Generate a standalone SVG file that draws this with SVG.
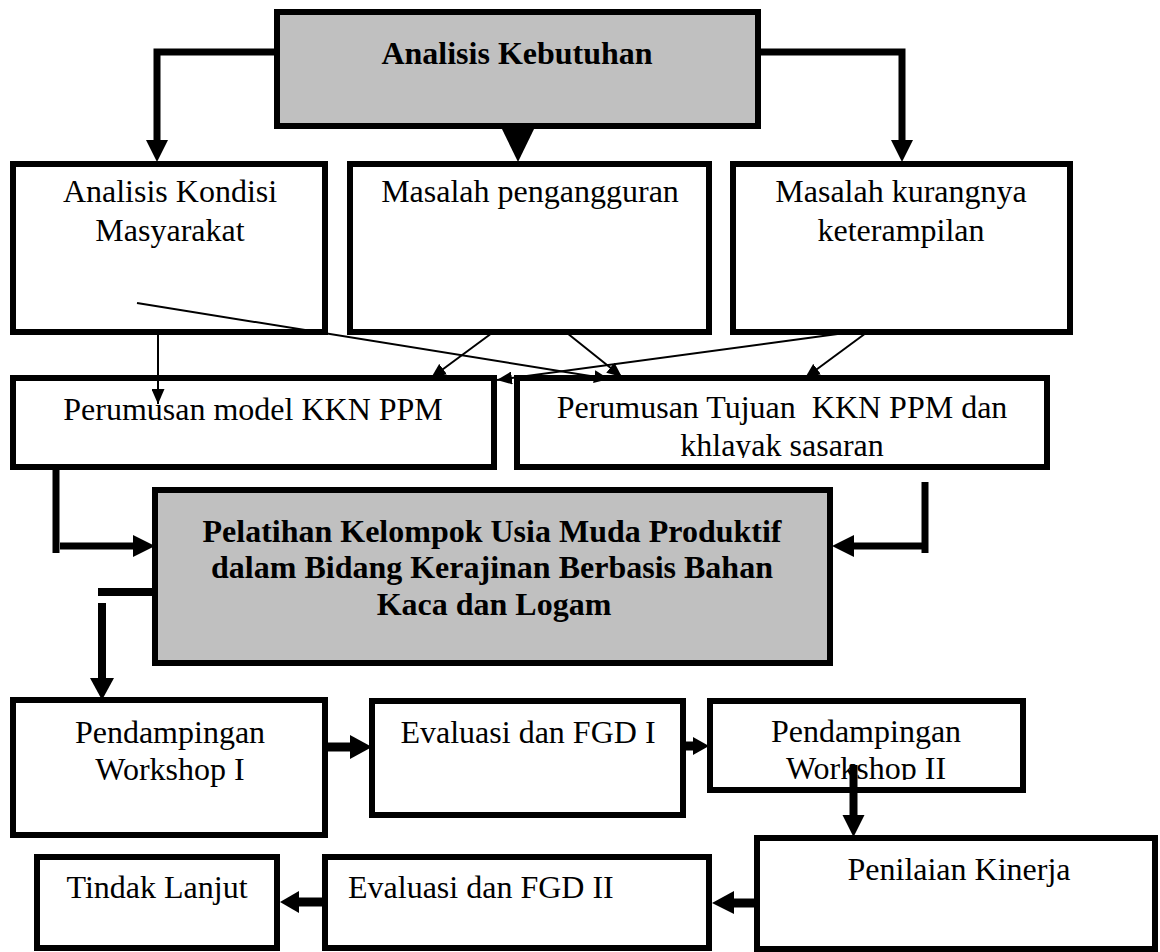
<svg xmlns="http://www.w3.org/2000/svg" width="1160" height="952" viewBox="0 0 1160 952">
<style>
.box{fill:#fff;stroke:#000;stroke-width:6}
.gray{fill:#c0c0c0;stroke:#000;stroke-width:6}
.t{font-family:"Liberation Serif","Times New Roman",serif;font-size:32px;fill:#000;text-anchor:middle}
.b{font-weight:bold}
.thick{fill:none;stroke:#000;stroke-width:7;stroke-linejoin:miter}
.thin{fill:none;stroke:#000;stroke-width:2;marker-end:url(#ah)}
.head{fill:#000}
</style>
<defs>
<marker id="ah" markerUnits="userSpaceOnUse" markerWidth="15" markerHeight="13" refX="15" refY="6.5" orient="auto">
<path d="M0,0 L15,6.5 L0,13 z" fill="#000"/>
</marker>
<clipPath id="clipE"><rect x="517" y="378" width="530" height="80"/></clipPath>
<clipPath id="clipW2"><rect x="710" y="700" width="313" height="80"/></clipPath>
</defs>
<rect width="1160" height="952" fill="#fff"/>
<g id="n-analisis-kebutuhan">
<rect class="gray" x="277" y="12" width="481" height="114"/>
<text class="t b" x="517" y="64">Analisis Kebutuhan</text>
</g>
<g id="n-analisis-kondisi">
<rect class="box" x="13" y="164" width="312" height="168"/>
<text class="t" x="170" y="202">Analisis Kondisi</text>
<text class="t" x="170" y="241">Masyarakat</text>
</g>
<g id="n-masalah-pengangguran">
<rect class="box" x="350" y="164" width="359" height="168"/>
<text class="t" x="530" y="202">Masalah pengangguran</text>
</g>
<g id="n-masalah-keterampilan">
<rect class="box" x="733" y="164" width="337" height="168"/>
<text class="t" x="901" y="202">Masalah kurangnya</text>
<text class="t" x="901" y="241">keterampilan</text>
</g>
<g id="n-perumusan-model">
<rect class="box" x="13" y="378" width="481" height="89"/>
<text class="t" x="253" y="420">Perumusan model KKN PPM</text>
</g>
<g id="n-perumusan-tujuan">
<rect class="box" x="517" y="378" width="530" height="89"/>
<g clip-path="url(#clipE)">
<text class="t" x="782" y="418" xml:space="preserve">Perumusan Tujuan  KKN PPM dan</text>
<text class="t" x="782" y="456">khlayak sasaran</text>
</g>
</g>
<g id="n-pelatihan">
<rect class="gray" x="155" y="490" width="675" height="173"/>
<text class="t b" x="492" y="542">Pelatihan Kelompok Usia Muda Produktif</text>
<text class="t b" x="492" y="578">dalam Bidang Kerajinan Berbasis Bahan</text>
<text class="t b" x="494" y="615">Kaca dan Logam</text>
</g>
<g id="n-workshop1">
<rect class="box" x="13" y="700" width="312" height="135"/>
<text class="t" x="170" y="743">Pendampingan</text>
<text class="t" x="170" y="780">Workshop I</text>
</g>
<g id="n-evaluasi1">
<rect class="box" x="372" y="701" width="311" height="114"/>
<text class="t" x="528" y="743">Evaluasi dan FGD I</text>
</g>
<g id="n-workshop2">
<rect class="box" x="710" y="701" width="313" height="89"/>
<text class="t" x="866" y="742">Pendampingan</text>
<g clip-path="url(#clipW2)">
<text class="t" x="866" y="779">Workshop II</text>
</g>
</g>
<g id="n-penilaian">
<rect class="box" x="757" y="838" width="398" height="111"/>
<text class="t" x="959" y="880">Penilaian Kinerja</text>
</g>
<g id="n-evaluasi2">
<rect class="box" x="325" y="857" width="384" height="91"/>
<text class="t" x="348" y="898" style="text-anchor:start">Evaluasi dan FGD II</text>
</g>
<g id="n-tindak-lanjut">
<rect class="box" x="37" y="857" width="240" height="91"/>
<text class="t" x="157" y="898">Tindak Lanjut</text>
</g>
<g id="connectors">
<path class="thick" d="M277,52 H157 V140"/>
<polygon class="head" points="146,140 168,140 157,162"/>
<path class="thick" d="M758,52 H902 V140"/>
<polygon class="head" points="891,140 913,140 902,162"/>
<polygon class="head" points="501,127 535,127 518,162"/>
<path class="thin" d="M158,332 V404"/>
<path class="thin" d="M137,303 L609,379"/>
<path class="thin" d="M492,333 L431,378"/>
<path class="thin" d="M567,333 L622,377"/>
<path class="thin" d="M845,333 L497,380"/>
<path class="thin" d="M866,333 L805,378"/>
<path class="thick" d="M56,470 V553"/>
<path class="thick" d="M60,546 H134"/>
<polygon class="head" points="133,535 133,557 155,546"/>
<path class="thick" d="M925,482 V553"/>
<path class="thick" d="M925,546 H853"/>
<polygon class="head" points="854,535 854,557 832,546"/>
<path class="thick" d="M98,592 H157" style="stroke-width:8"/>
<path class="thick" d="M102,603 V679" style="stroke-width:8"/>
<polygon class="head" points="90,678 114,678 102,700"/>
<path class="thick" d="M325,747 H351" style="stroke-width:9"/>
<polygon class="head" points="350,735 350,759 372,747"/>
<path class="thick" d="M683,746 H694" style="stroke-width:9"/>
<polygon class="head" points="693,737 693,755 709,746"/>
<path class="thick" d="M853.5,765 V816" style="stroke-width:8"/>
<polygon class="head" points="842.5,815 864.5,815 853.5,837"/>
<path class="thick" d="M757,903 H733" style="stroke-width:9"/>
<polygon class="head" points="734,891 734,914 712,903"/>
<path class="thick" d="M325,902 H298" style="stroke-width:9"/>
<polygon class="head" points="299,891 299,913 280,902"/>
</g>
</svg>
